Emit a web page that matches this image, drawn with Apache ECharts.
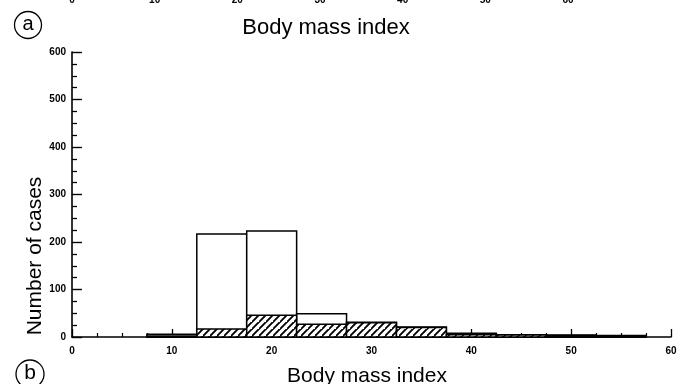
<!DOCTYPE html>
<html>
<head>
<meta charset="utf-8">
<script src="https://cdn.jsdelivr.net/npm/echarts@6/dist/echarts.min.js"></script>
<style>
html,body{margin:0;padding:0;background:#fff;}
#chart{width:686px;height:384px;}
</style>
</head>
<body>
<div id="chart"></div>
<script>
// Data
const binCenters = [10, 15, 20, 25, 30, 35, 40, 45, 50, 55];
const allCases = [6, 217, 223, 49, 31, 21, 8, 5, 4, 3];
const hatchedCases = [2, 17, 46, 27, 30, 20, 5, 4, 3, 2];
const binWidth = 5;
const topPanelTicks = ['0', '10', '20', '30', '40', '50', '60'];
const xAxisTitle = 'Body mass index';
const yAxisTitle = 'Number of cases';

const FONT = '"Liberation Sans", Arial, sans-serif';

// hatch pattern
const pc = document.createElement('canvas');
const S = 7;
pc.width = S; pc.height = S;
const g = pc.getContext('2d');
g.fillStyle = '#fff';
g.fillRect(0, 0, S, S);
g.strokeStyle = '#000';
g.lineWidth = 1.9;
g.beginPath();
g.moveTo(-1, S + 1); g.lineTo(S + 1, -1);
g.moveTo(-1 - S, S + 1); g.lineTo(1, -1);
g.moveTo(S - 1, 2 * S + 1); g.lineTo(2 * S + 1, S - 1);
g.stroke();
const hatch = { image: pc, repeat: 'repeat' };

function makeRender(fill) {
  return function (params, api) {
    const c = api.value(0), v = api.value(1);
    const p0 = api.coord([c - binWidth / 2, 0]);
    const p1 = api.coord([c + binWidth / 2, v]);
    return {
      type: 'rect',
      shape: { x: p0[0], y: p1[1], width: p1[0] - p0[0], height: p0[1] - p1[1] },
      style: { fill: fill, stroke: '#000', lineWidth: 1.5 }
    };
  };
}

const chart = echarts.init(document.getElementById('chart'), null, { renderer: 'canvas' });

const graphics = [];
const topLeft = 72, topRight = 568;
topPanelTicks.forEach((t, i) => {
  graphics.push({
    type: 'text',
    x: topLeft + (topRight - topLeft) * i / (topPanelTicks.length - 1),
    y: 0,
    style: { text: t, fill: '#000', font: 'bold 10px ' + FONT, textAlign: 'center', textVerticalAlign: 'middle' }
  });
});
graphics.push(
  { type: 'circle', shape: { cx: 28, cy: 25, r: 13.5 }, style: { fill: 'none', stroke: '#000', lineWidth: 1.3 } },
  { type: 'text', x: 28, y: 24, style: { text: 'a', fill: '#000', font: '20px ' + FONT, textAlign: 'center', textVerticalAlign: 'middle' } },
  { type: 'text', x: 326, y: 28, style: { text: xAxisTitle, fill: '#000', font: '22px ' + FONT, textAlign: 'center', textVerticalAlign: 'middle' } },
  { type: 'circle', shape: { cx: 30, cy: 374, r: 14 }, style: { fill: 'none', stroke: '#000', lineWidth: 1.3 } },
  { type: 'text', x: 30, y: 373, style: { text: 'b', fill: '#000', font: '21px ' + FONT, textAlign: 'center', textVerticalAlign: 'middle' } },
  { type: 'text', x: 367, y: 376, style: { text: xAxisTitle, fill: '#000', font: '21px ' + FONT, textAlign: 'center', textVerticalAlign: 'middle' } },
  { type: 'text', x: 35, y: 256, rotation: Math.PI / 2, style: { text: yAxisTitle, fill: '#000', font: '21px ' + FONT, textAlign: 'center', textVerticalAlign: 'middle' } }
);

chart.setOption({
  animation: false,
  backgroundColor: '#fff',
  grid: { left: 72, right: 15, top: 52, bottom: 47 },
  xAxis: {
    type: 'value', min: 0, max: 60, interval: 10,
    axisLine: { lineStyle: { color: '#000', width: 1.6 } },
    axisTick: { inside: true, length: 8, lineStyle: { color: '#000', width: 1.3 } },
    minorTick: { show: true, splitNumber: 4, length: 4, lineStyle: { color: '#000', width: 1.2 } },
    axisLabel: { color: '#000', fontSize: 10, fontWeight: 'bold', fontFamily: FONT, margin: 9 },
    splitLine: { show: false }
  },
  yAxis: {
    type: 'value', min: 0, max: 600, interval: 100,
    axisLine: { show: true, lineStyle: { color: '#000', width: 1.6 } },
    axisTick: { show: true, inside: true, length: 10, lineStyle: { color: '#000', width: 1.4 } },
    minorTick: { show: true, splitNumber: 4, length: 5, lineStyle: { color: '#000', width: 1.3 } },
    axisLabel: { color: '#000', fontSize: 10, fontWeight: 'bold', fontFamily: FONT, margin: 6 },
    splitLine: { show: false }
  },
  graphic: graphics,
  series: [
    {
      type: 'custom', name: 'All',
      renderItem: makeRender('#fff'),
      data: binCenters.map((c, i) => [c, allCases[i]]),
      z: 2
    },
    {
      type: 'custom', name: 'Subgroup',
      renderItem: makeRender(hatch),
      data: binCenters.map((c, i) => [c, hatchedCases[i]]),
      z: 3
    }
  ]
});
</script>
</body>
</html>
